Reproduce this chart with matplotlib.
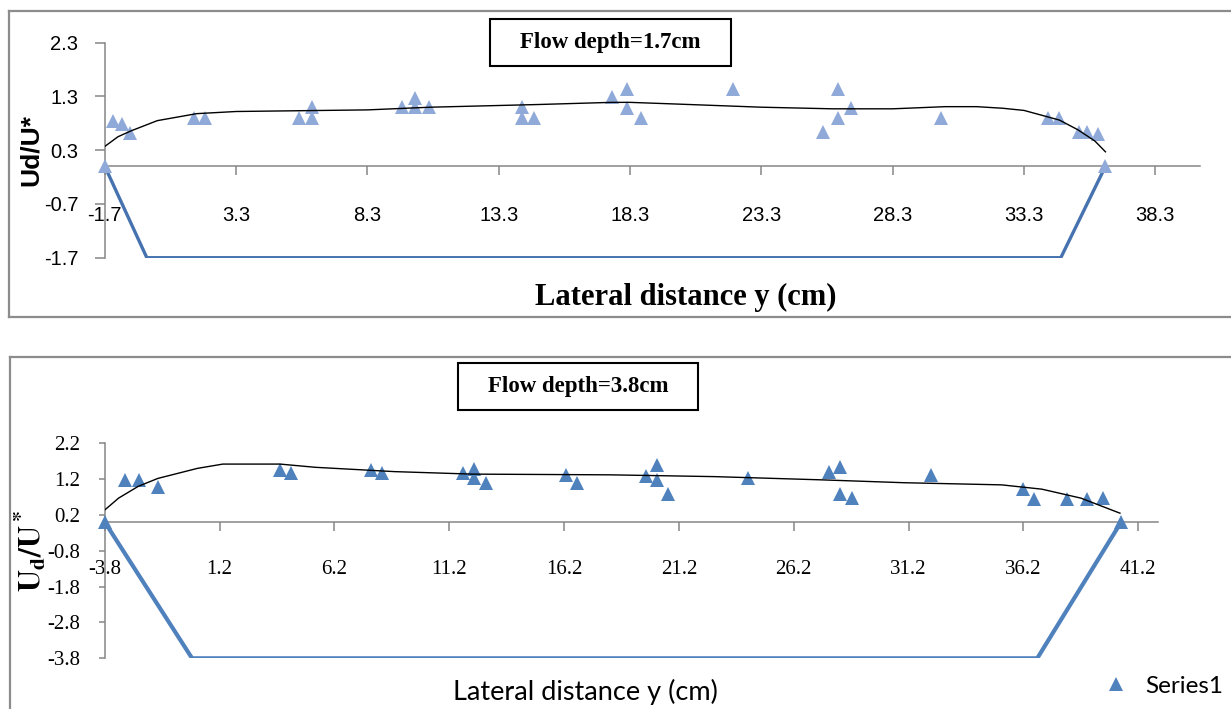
import matplotlib
matplotlib.use('Agg')
import matplotlib.pyplot as plt
from matplotlib.patches import Rectangle
from matplotlib.lines import Line2D

plt.rcParams['mathtext.fontset'] = 'stix'

# === Datos: panel superior (flow depth 1.7 cm) ===
top_x = [-1.7, -1.4, -1.05, -0.75, 1.7, 2.1, 5.7, 6.2, 6.2, 9.6, 10.1, 10.1, 10.65,
         14.2, 14.2, 14.65, 17.6, 18.2, 18.2, 18.7, 22.2, 25.65, 26.2, 26.2, 26.7,
         30.15, 34.2, 34.65, 35.4, 35.7, 36.1, 36.4]
top_y = [0.0, 0.85, 0.79, 0.62, 0.9, 0.9, 0.9, 1.1, 0.9, 1.1, 1.28, 1.1, 1.1,
         1.1, 0.9, 0.9, 1.29, 1.43, 1.09, 0.9, 1.43, 0.63, 1.43, 0.9, 1.09,
         0.9, 0.9, 0.9, 0.63, 0.63, 0.6, 0.0]
top_trend_x = [-1.7, -1.2, -0.7, 0.3, 1.8, 3.3, 8.3, 10.7, 14.8, 17.6, 18.3, 20.0,
               23.3, 26.0, 28.3, 30.3, 31.5, 32.5, 33.3, 34.2, 34.65, 35.35, 36.0, 36.4]
top_trend_y = [0.37, 0.55, 0.66, 0.85, 0.98, 1.02, 1.05, 1.1, 1.15, 1.19, 1.19, 1.16,
               1.1, 1.07, 1.07, 1.11, 1.11, 1.08, 1.04, 0.92, 0.86, 0.68, 0.47, 0.27]
top_chan_x = [-1.7, -0.1, 34.7, 36.4]
top_chan_y = [0.0, -1.7, -1.7, 0.0]
top_xticks = [-1.7, 3.3, 8.3, 13.3, 18.3, 23.3, 28.3, 33.3, 38.3]
top_xlabels = ['-1.7', '3.3', '8.3', '13.3', '18.3', '23.3', '28.3', '33.3', '38.3']
top_yticks = [-1.7, -0.7, 0.3, 1.3, 2.3]
top_ylabels = ['-1.7', '-0.7', '0.3', '1.3', '2.3']

# === Datos: panel inferior (flow depth 3.8 cm) ===
bot_x = [-3.8, -2.92, -2.31, -1.48, 3.83, 4.29, 7.77, 8.29, 11.8, 12.28, 12.28, 12.78,
         16.3, 16.78, 19.77, 20.25, 20.25, 20.71, 24.21, 27.73, 28.21, 28.21, 28.74,
         32.18, 36.18, 36.68, 38.1, 38.96, 39.66, 40.45]
bot_y = [0.0, 1.18, 1.18, 0.97, 1.46, 1.38, 1.46, 1.38, 1.38, 1.48, 1.22, 1.1,
         1.32, 1.1, 1.3, 1.6, 1.18, 0.79, 1.22, 1.41, 1.55, 0.79, 0.67,
         1.32, 0.92, 0.64, 0.64, 0.64, 0.67, 0.0]
bot_trend_x = [-3.8, -3.2, -2.34, -1.49, 0.23, 1.34, 3.83, 5.37, 8.8, 12.2, 18.2,
               22.75, 27.4, 31.0, 35.25, 37.0, 38.7, 40.4]
bot_trend_y = [0.34, 0.67, 1.0, 1.22, 1.5, 1.62, 1.62, 1.53, 1.41, 1.34, 1.32,
               1.27, 1.18, 1.1, 1.04, 0.92, 0.67, 0.25]
bot_chan_x = [-3.8, 0.0, 36.8, 40.45]
bot_chan_y = [0.0, -3.8, -3.8, 0.0]
bot_xticks = [-3.8, 1.2, 6.2, 11.2, 16.2, 21.2, 26.2, 31.2, 36.2, 41.2]
bot_xlabels = ['-3.8', '1.2', '6.2', '11.2', '16.2', '21.2', '26.2', '31.2', '36.2', '41.2']
bot_yticks = [-3.8, -2.8, -1.8, -0.8, 0.2, 1.2, 2.2]
bot_ylabels = ['-3.8', '-2.8', '-1.8', '-0.8', '0.2', '1.2', '2.2']

# === Figura (coordenadas en pixeles del original) ===
W, H = 1231, 709
fig = plt.figure(figsize=(W / 100, H / 100), dpi=100)


def fx(px):
    return px / W


def fy(py):
    return 1 - py / H


GRAY = '#868686'
FRAME = '#8c8c8c'
LIGHT = '#8FAAD8'
BLUE = '#4F81BD'
CHAN = '#4673B0'


def frame(left, top, bottom):
    kw = dict(color=FRAME, lw=1.6, transform=fig.transFigure)
    fig.add_artist(Line2D([fx(left), 1.0], [fy(top)] * 2, **kw))
    fig.add_artist(Line2D([fx(left)] * 2, [fy(top), fy(bottom)], **kw))
    if bottom < H:
        fig.add_artist(Line2D([fx(left), 1.0], [fy(bottom)] * 2, **kw))


def text_box(x0, y0, x1, y1, label):
    fig.add_artist(Rectangle((fx(x0), fy(y1)), fx(x1) - fx(x0), fy(y0) - fy(y1),
                             transform=fig.transFigure, fill=False, ec='black', lw=1.5))
    fig.text(fx((x0 + x1) / 2), fy((y0 + y1) / 2), label, ha='center', va='center',
             family='Liberation Serif', fontweight='bold', fontsize=16.5)


def setup(ax, xlim, ylim, xt, xl, yt, yl, font, fsize, xlen, ylen, xpad, ypad):
    ax.set_xlim(xlim)
    ax.set_ylim(ylim)
    ax.patch.set_visible(False)
    for s in ['top', 'right']:
        ax.spines[s].set_visible(False)
    ax.spines['bottom'].set_position(('data', 0))
    for s in ['left', 'bottom']:
        ax.spines[s].set_color(GRAY)
        ax.spines[s].set_linewidth(1.1)
    ax.set_xticks(xt, xl, family=font, fontsize=fsize)
    ax.set_yticks(yt, yl, family=font, fontsize=fsize)
    ax.tick_params(axis='x', direction='out', length=xlen, width=1.1, color=GRAY, pad=xpad)
    ax.tick_params(axis='y', direction='out', length=ylen, width=1.1, color=GRAY, pad=ypad)


# --- panel superior ---
frame(8.5, 10.7, 317.3)
ax1 = fig.add_axes([fx(104.8), fy(257.7), fx(1200) - fx(104.8), fy(42.7) - fy(257.7)])
setup(ax1, (-1.7, 40.0), (-1.7, 2.3), top_xticks, top_xlabels, top_yticks, top_ylabels,
      'Liberation Sans', 14.5, 6.5, 7, 22, 12)
ax1.plot(top_chan_x, top_chan_y, color=CHAN, lw=2.4, zorder=2, solid_joinstyle='miter')
ax1.plot(top_trend_x, top_trend_y, color='black', lw=1.0, zorder=4)
ax1.plot(top_x, top_y, '^', ms=9.5, color=LIGHT, mew=0, clip_on=False, zorder=3)
text_box(489.5, 19, 730.6, 65.7, 'Flow depth=1.7cm')
fig.text(fx(685.5), fy(297), 'Lateral distance y (cm)', ha='center', va='center',
         family='Liberation Serif', fontweight='bold', fontsize=22)
fig.text(fx(31), fy(150), 'Ud/U*', rotation=90, ha='center', va='center',
         family='Liberation Sans', fontweight='bold', fontsize=19)

# --- panel inferior ---
frame(9.5, 357.3, H + 10)
ax2 = fig.add_axes([fx(104.8), fy(658.3), fx(1157.6) - fx(104.8), fy(443.3) - fy(658.3)])
setup(ax2, (-3.8, 42.04), (-3.8, 2.2), bot_xticks, bot_xlabels, bot_yticks, bot_ylabels,
      'Liberation Serif', 15, 6.5, 4.5, 21, 13)
ax2.plot(bot_chan_x, bot_chan_y, color=BLUE, lw=3.0, zorder=2, solid_joinstyle='miter')
ax2.plot(bot_trend_x, bot_trend_y, color='black', lw=1.0, zorder=4)
mk, = ax2.plot(bot_x, bot_y, '^', ms=10.5, color=BLUE, mew=0, clip_on=False, zorder=3)
text_box(458, 362.7, 697.8, 410, 'Flow depth=3.8cm')
fig.text(fx(585.7), fy(691.7), 'Lateral distance y (cm)', ha='center', va='center',
         family=['Lato', 'DejaVu Sans'], fontsize=19.5)
fig.text(fx(30), fy(551), r'$\mathbf{U_d/U^*}$', rotation=90, ha='center', va='center',
         fontsize=22)
fig.legend([mk], ['Series1'], loc='center left', bbox_to_anchor=(fx(1104), fy(686)),
           frameon=False, handlelength=1.0, handletextpad=0.7, borderpad=0,
           borderaxespad=0, prop={'family': ['Lato', 'DejaVu Sans'], 'size': 17.5})

fig.savefig('out.png', dpi=100)
